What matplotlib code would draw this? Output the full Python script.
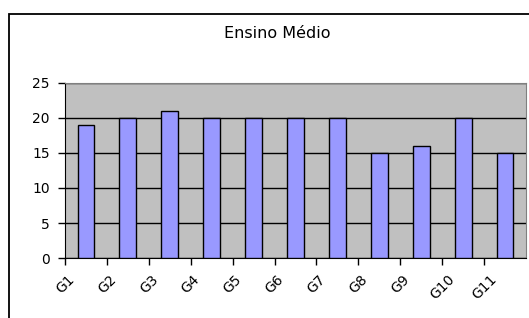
import matplotlib
matplotlib.use("Agg")
import matplotlib.pyplot as plt
from matplotlib.patches import Rectangle
import numpy as np

# ---- data ----
categories = ["G1", "G2", "G3", "G4", "G5", "G6", "G7", "G8", "G9", "G10", "G11"]
values = [19, 20, 21, 20, 20, 20, 20, 15, 16, 20, 15]
yticks = [0, 5, 10, 15, 20, 25]
title = "Ensino Médio"

plt.rcParams['font.family'] = ['DejaVu Sans']

W, H = 529, 318
fig = plt.figure(figsize=(W / 100, H / 100), dpi=100)
fig.patch.set_facecolor("white")

# outer chart frame (right and bottom edges fall outside the picture)
fig.add_artist(Rectangle((9 / W, -0.1), 1.2, (H - 14) / H + 0.1,
                         transform=fig.transFigure, fill=False,
                         edgecolor="black", linewidth=1.3))

ax = fig.add_axes([65 / W, (H - 258.3) / H, (526 - 65) / W, (258.3 - 82.5) / H])
ax.set_facecolor("#C0C0C0")

x = np.arange(len(categories))
ax.bar(x, values, width=0.4, color="#9999FF", edgecolor="black", linewidth=1.0, zorder=3)

ax.set_xlim(-0.5, len(categories) - 0.5)
ax.set_ylim(0, 25)
ax.set_yticks(yticks)
ax.set_yticklabels([str(v) for v in yticks], fontsize=10)
ax.yaxis.grid(True, color="black", linewidth=1.0, zorder=1)
ax.set_axisbelow(True)

ax.set_xticks(x - 0.5)
ax.set_xticklabels(categories, rotation=45, ha="center", fontsize=10)
ax.tick_params(axis="y", length=5, width=1, pad=6)
ax.tick_params(axis="x", length=5, width=1, pad=5)

ax.spines["left"].set_color("black")
ax.spines["bottom"].set_color("black")
ax.spines["top"].set_color("#808080")
ax.spines["right"].set_color("#808080")

fig.text(277 / W, 1 - 34 / H, title, ha="center", va="center", fontsize=11.5)

fig.savefig("out.png", dpi=100)
